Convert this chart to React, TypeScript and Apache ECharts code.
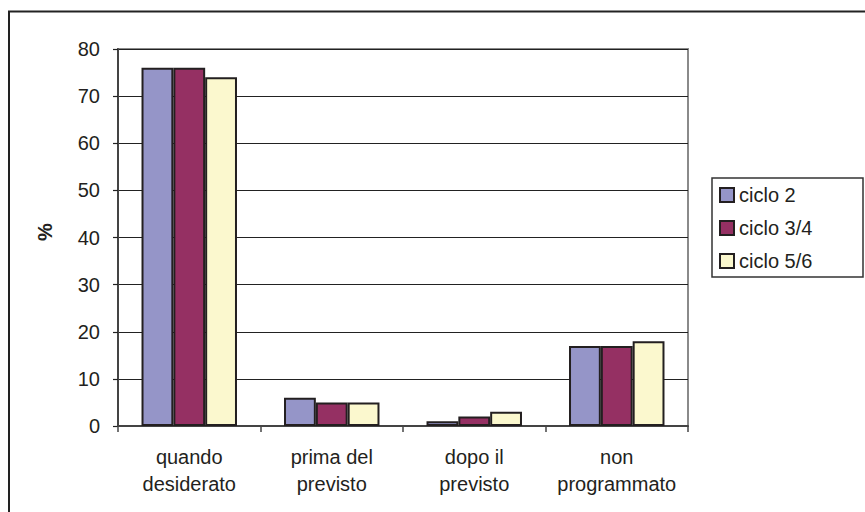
import React, { useEffect, useRef } from "react";
import * as echarts from "echarts";

const categories = ["quando\ndesiderato", "prima del\nprevisto", "dopo il\nprevisto", "non\nprogrammato"];
const seriesNames = ["ciclo 2", "ciclo 3/4", "ciclo 5/6"];
const ciclo2 = [76, 6, 1, 17];
const ciclo34 = [76, 5, 2, 17];
const ciclo56 = [74, 5, 3, 18];
const seriesValues = [ciclo2, ciclo34, ciclo56];
const colors = ["#9595c8", "#953063", "#fbf8ce"];

const FONT = "'Liberation Sans', Arial, sans-serif";
const TEXT = "#231f20";

export default function App() {
  const ref = useRef<HTMLDivElement>(null);
  useEffect(() => {
    if (!ref.current) return;
    const chart = echarts.init(ref.current, undefined, { renderer: "svg" });
    chart.setOption({
      animation: false,
      backgroundColor: "#ffffff",
      textStyle: { fontFamily: FONT },
      grid: {
        left: 118,
        top: 49,
        right: 177,
        bottom: 86,
        show: true,
        borderColor: "#8a8a8a",
        borderWidth: 2,
        backgroundColor: "transparent",
      },
      legend: {
        orient: "vertical",
        left: 719,
        top: 185,
        padding: 0,
        itemWidth: 14,
        itemHeight: 14,
        itemGap: 13,
        icon: "rect",
        data: seriesNames,
        textStyle: { fontSize: 20, color: TEXT, fontFamily: FONT, lineHeight: 20 },
      },
      xAxis: {
        type: "category",
        data: categories,
        axisLine: { show: true, lineStyle: { color: "#444", width: 2 } },
        axisTick: { show: true, length: 6, lineStyle: { color: "#444", width: 1.5 } },
        axisLabel: {
          fontSize: 20,
          color: TEXT,
          fontFamily: FONT,
          lineHeight: 27,
          margin: 17,
          interval: 0,
        },
        splitLine: { show: false },
      },
      yAxis: {
        type: "value",
        min: 0,
        max: 80,
        interval: 10,
        axisLine: { show: true, lineStyle: { color: "#444", width: 2 } },
        axisTick: { show: true, length: 5, lineStyle: { color: "#222", width: 1.2 } },
        axisLabel: { fontSize: 20, color: TEXT, fontFamily: FONT, margin: 18 },
        splitLine: { show: true, lineStyle: { color: "#222", width: 1.2 } },
      },
      series: seriesNames.map((name, i) => ({
        name,
        type: "bar",
        data: seriesValues[i],
        barGap: "0%",
        barCategoryGap: "33%",
        itemStyle: { color: colors[i], borderColor: "#231f20", borderWidth: 2 },
      })),
      graphic: [
        {
          type: "rect",
          shape: { x: 9, y: 11.5, width: 900, height: 600 },
          style: { fill: "none", stroke: "#222", lineWidth: 2 },
          silent: true,
          z: -10,
        },
        {
          type: "rect",
          shape: { x: 712, y: 178, width: 151, height: 99 },
          style: { fill: "none", stroke: "#333", lineWidth: 1.5 },
          silent: true,
        },
        {
          type: "text",
          x: 45,
          y: 232,
          rotation: Math.PI / 2,
          style: {
            text: "%",
            fontSize: 20,
            fontWeight: "bold",
            fontFamily: FONT,
            fill: TEXT,
            align: "center",
            verticalAlign: "middle",
          },
        },
      ],
    });
    return () => chart.dispose();
  }, []);
  return (
    <div
      ref={ref}
      style={{ position: "fixed", left: 0, top: 0, width: 865, height: 512 }}
    />
  );
}
